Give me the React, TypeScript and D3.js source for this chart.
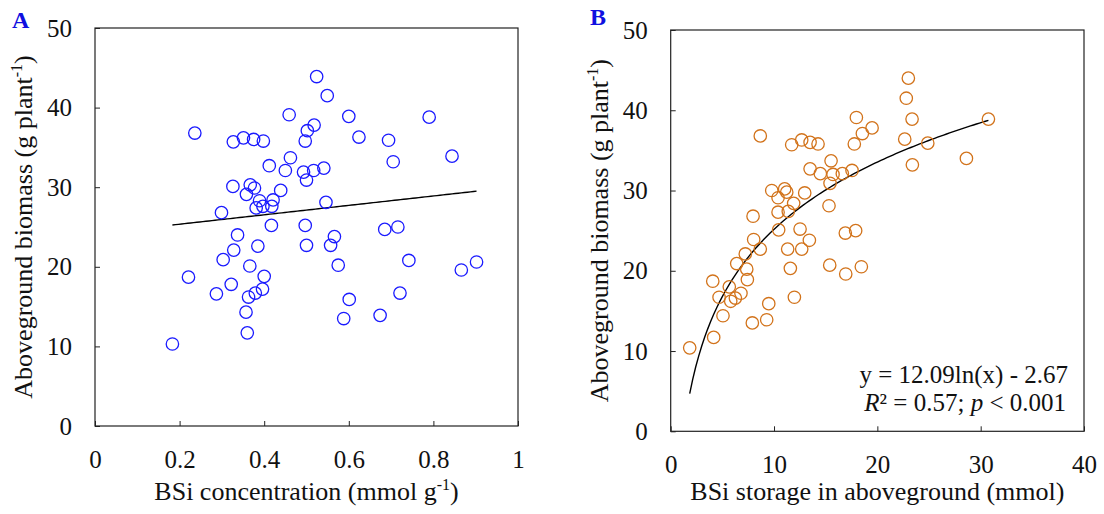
import React, { useEffect, useRef } from "react";
import * as d3 from "d3";

// Panel A: BSi concentration vs aboveground biomass
const concX = [
  0.524, 0.549, 0.459, 0.6, 0.79, 0.236, 0.518, 0.502, 0.497, 0.624, 0.694, 0.327, 0.351,
  0.375, 0.398, 0.844, 0.705, 0.462, 0.412, 0.45, 0.493, 0.517, 0.541, 0.5, 0.326, 0.367,
  0.377, 0.439, 0.358, 0.389, 0.421, 0.418, 0.397, 0.381, 0.546, 0.299, 0.417, 0.497, 0.685,
  0.716, 0.337, 0.566, 0.557, 0.5, 0.385, 0.328, 0.303, 0.742, 0.902, 0.866, 0.366, 0.575,
  0.221, 0.4, 0.322, 0.287, 0.363, 0.379, 0.396, 0.601, 0.721, 0.357, 0.588, 0.674, 0.36,
  0.183,
];
const concY = [
  43.9, 41.5, 39.1, 38.9, 38.8, 36.8, 37.8, 37.1, 35.8, 36.3, 35.9, 35.7, 36.2, 36.0, 35.8,
  33.9, 33.2, 33.7, 32.7, 32.1, 31.9, 32.1, 32.4, 30.9, 30.1, 30.3, 29.9, 29.6, 29.1, 28.3,
  28.4, 27.6, 27.6, 27.4, 28.1, 26.8, 25.2, 25.2, 24.7, 25.0, 24.0, 23.8, 22.7, 22.7, 22.6,
  22.1, 20.9, 20.8, 20.6, 19.6, 20.1, 20.2, 18.7, 18.8, 17.8, 16.6, 16.2, 16.7, 17.2, 15.9,
  16.7, 14.3, 13.5, 13.9, 11.7, 10.3,
];

// Panel B: BSi storage vs aboveground biomass
const storX = [
  23.0, 22.8, 17.97, 23.36, 30.75, 19.49, 18.55, 8.67, 17.77, 22.65, 24.88, 11.71, 12.68,
  13.49, 14.26, 28.62, 23.39, 15.52, 13.49, 14.48, 15.71, 16.61, 17.55, 15.42, 9.78, 11.03,
  11.23, 12.97, 10.39, 11.9, 11.38, 10.39, 15.32, 7.97, 10.45, 12.52, 16.9, 17.9, 8.03, 13.42,
  8.67, 11.32, 12.68, 7.22, 6.39, 7.36, 11.58, 15.39, 18.45, 16.94, 4.07, 7.42, 5.67, 4.68,
  5.81, 6.26, 6.8, 9.49, 11.97, 5.06, 7.9, 9.29, 4.16, 1.84,
];
const storY = [
  44.0, 41.5, 39.1, 38.9, 38.9, 37.8, 37.1, 36.8, 35.8, 36.4, 35.9, 35.7, 36.3, 36.0, 35.8,
  34.0, 33.2, 33.7, 32.7, 32.1, 32.0, 32.1, 32.5, 30.9, 30.0, 30.2, 29.8, 29.7, 29.1, 28.4,
  27.4, 27.3, 28.1, 26.8, 25.1, 25.2, 24.7, 25.0, 23.9, 23.8, 22.7, 22.7, 22.7, 22.1, 20.9,
  20.2, 20.3, 20.7, 20.5, 19.6, 18.7, 18.9, 18.0, 16.7, 16.2, 16.6, 17.2, 15.9, 16.7, 14.4,
  13.5, 13.9, 11.7, 10.4,
];

const yTicks = [0, 10, 20, 30, 40, 50];
const concTicks = [0, 0.2, 0.4, 0.6, 0.8, 1];
const storTicks = [0, 10, 20, 30, 40];

// linear fit for A, log fit for B
const linFit = { slope: 5.91, intercept: 24.17 };
const logFit = { a: 12.09, b: -2.67 };

const FONT = "'Liberation Serif', 'Times New Roman', serif";

const App = () => {
  const svgRef = useRef<SVGSVGElement>(null);

  useEffect(() => {
    const svg = d3.select(svgRef.current);
    svg.selectAll("*").remove();

    const drawPanel = (opts: any) => {
      const { left, right, top, bottom, xDomain, xTicks, xs, ys, color, letter, letterX, letterY, xTitle, fit } = opts;
      const x = d3.scaleLinear().domain(xDomain).range([left, right]);
      const y = d3.scaleLinear().domain([0, 50]).range([bottom, top]);
      const g = svg.append("g").attr("font-family", FONT);

      // frame
      g.append("rect")
        .attr("x", left)
        .attr("y", top)
        .attr("width", right - left)
        .attr("height", bottom - top)
        .attr("fill", "none")
        .attr("stroke", "#222")
        .attr("stroke-width", 1.2);

      // inward ticks
      const xAxis = d3.axisBottom(x).tickValues(xTicks).tickSize(-5).tickFormat((d: any) => String(d));
      const xg = g.append("g").attr("transform", `translate(0,${bottom})`).call(xAxis);
      const yAxis = d3.axisLeft(y).tickValues(yTicks).tickSize(-5);
      const yg = g.append("g").attr("transform", `translate(${left},0)`).call(yAxis);
      [xg, yg].forEach((ax) => {
        ax.select(".domain").remove();
        ax.selectAll("line").attr("stroke", "#222");
        ax.selectAll("text").attr("font-family", FONT).attr("font-size", 25).attr("fill", "#111");
      });
      xg.selectAll("text").attr("y", 24).attr("dy", "0.71em");
      yg.selectAll("text").attr("x", -23);

      // x title
      const xt = g.append("text")
        .attr("x", (left + right) / 2)
        .attr("y", 500)
        .attr("text-anchor", "middle")
        .attr("font-size", 26)
        .attr("fill", "#111");
      xTitle(xt);

      // y title
      const yt = g.append("text")
        .attr("transform", `translate(${left - 63},${(top + bottom) / 2}) rotate(-90)`)
        .attr("text-anchor", "middle")
        .attr("font-size", 26)
        .attr("fill", "#111");
      yt.append("tspan").text("Aboveground biomass (g plant");
      yt.append("tspan").attr("dy", -10).attr("font-size", 16).text("-1");
      yt.append("tspan").attr("dy", 10).text(")");

      // letter
      g.append("text")
        .attr("x", letterX)
        .attr("y", letterY)
        .attr("font-size", 24)
        .attr("font-weight", "bold")
        .attr("fill", "#1010e0")
        .text(letter);

      // fit line
      const xmin = d3.min(xs) as number;
      const xmax = d3.max(xs) as number;
      const fx = d3.range(0, 101).map((i) => xmin + ((xmax - xmin) * i) / 100);
      const line = d3.line<number>().x((d) => x(d)).y((d) => y(fit(d)));
      g.append("path")
        .attr("d", line(fx))
        .attr("fill", "none")
        .attr("stroke", "#000")
        .attr("stroke-width", 1.4);

      // points
      g.append("g")
        .selectAll("circle")
        .data(xs)
        .enter()
        .append("circle")
        .attr("cx", (d: number) => x(d))
        .attr("cy", (_: number, i: number) => y(ys[i]))
        .attr("r", 6.2)
        .attr("fill", "none")
        .attr("stroke", color)
        .attr("stroke-width", 1.3);

      return { x, y, g };
    };

    drawPanel({
      left: 95,
      right: 518,
      top: 28,
      bottom: 426,
      xDomain: [0, 1],
      xTicks: concTicks,
      xs: concX,
      ys: concY,
      color: "#1a1aff",
      letter: "A",
      letterX: 12,
      letterY: 28,
      fit: (v: number) => linFit.intercept + linFit.slope * v,
      xTitle: (t: any) => {
        t.append("tspan").text("BSi concentration (mmol g");
        t.append("tspan").attr("dy", -10).attr("font-size", 16).text("-1");
        t.append("tspan").attr("dy", 10).text(")");
      },
    });

    const b = drawPanel({
      left: 670.7,
      right: 1084,
      top: 30,
      bottom: 431.3,
      xDomain: [0, 40],
      xTicks: storTicks,
      xs: storX,
      ys: storY,
      color: "#d2731b",
      letter: "B",
      letterX: 590,
      letterY: 25,
      fit: (v: number) => logFit.a * Math.log(v) + logFit.b,
      xTitle: (t: any) => t.text("BSi storage in aboveground (mmol)"),
    });

    b.g.append("text")
      .attr("x", 1068)
      .attr("y", 383)
      .attr("text-anchor", "end")
      .attr("font-size", 25)
      .attr("fill", "#111")
      .text("y = 12.09ln(x) - 2.67");
    const r2 = b.g.append("text")
      .attr("x", 1066)
      .attr("y", 411)
      .attr("text-anchor", "end")
      .attr("font-size", 25)
      .attr("fill", "#111");
    r2.append("tspan").attr("font-style", "italic").text("R");
    r2.append("tspan").text("² = 0.57; ");
    r2.append("tspan").attr("font-style", "italic").text("p");
    r2.append("tspan").text(" < 0.001");
  }, []);

  return (
    <svg
      ref={svgRef}
      width={1104}
      height={514}
      style={{ position: "absolute", left: 0, top: 0, background: "#fff" }}
    ></svg>
  );
};

export default App;
